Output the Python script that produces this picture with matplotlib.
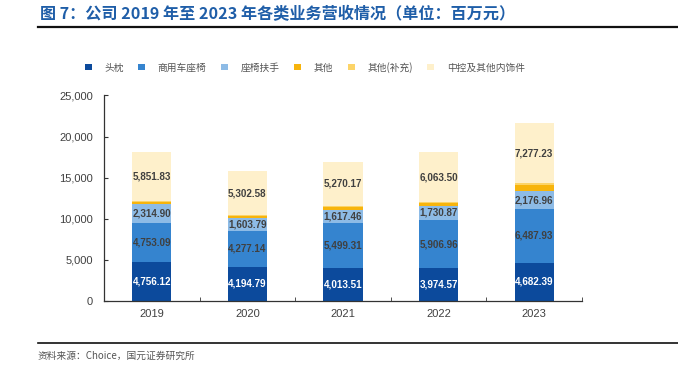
import matplotlib

matplotlib.use("Agg")
import matplotlib.pyplot as plt
import numpy as np

plt.rcParams["font.family"] = ["Noto Sans CJK SC", "DejaVu Sans"]
plt.rcParams["axes.unicode_minus"] = False

YEARS = ["2019", "2020", "2021", "2022", "2023"]
HEADREST = [4756.12, 4194.79, 4013.51, 3974.57, 4682.39]
COMMERCIAL_SEAT = [4753.09, 4277.14, 5499.31, 5906.96, 6487.93]
ARMREST = [2314.90, 1603.79, 1617.46, 1730.87, 2176.96]
OTHER = [250.0, 230.0, 320.0, 260.0, 820.0]
OTHER_EXTRA = [150.0, 170.0, 150.0, 140.0, 150.0]
CONSOLE = [5851.83, 5302.58, 5270.17, 6063.50, 7277.23]

SERIES_NAMES = ["头枕", "商用车座椅", "座椅扶手", "其他", "其他(补充)", "中控及其他内饰件"]
COLORS = ["#0c4a9c", "#3584cf", "#8dbbe6", "#f7b40c", "#fcd468", "#fef0cb"]
LABELED = [True, True, True, False, False, True]
LABEL_COLORS = ["#ffffff", "#404040", "#404040", None, None, "#404040"]

TITLE_BLUE = "#1f5ea8"
GRAY = "#404040"
NUM_FONT = ["Liberation Sans", "DejaVu Sans"]

fig = plt.figure(figsize=(6.78, 3.73), dpi=100)
ax = fig.add_axes([0.1534, 0.193, 0.705, 0.551])

series = [HEADREST, COMMERCIAL_SEAT, ARMREST, OTHER, OTHER_EXTRA, CONSOLE]
x = np.arange(len(YEARS))
bottom = np.zeros(len(YEARS))
for vals, name, color, lab, lc in zip(series, SERIES_NAMES, COLORS, LABELED, LABEL_COLORS):
    vals = np.array(vals)
    ax.bar(x, vals, 0.41, bottom=bottom, color=color, label=name, zorder=2)
    if lab:
        for xi, b, v in zip(x, bottom, vals):
            ax.text(xi, b + v / 2, f"{v:,.2f}", ha="center", va="center",
                    fontsize=7.1, fontweight="bold", color=lc, family=NUM_FONT, zorder=3)
    bottom += vals

ax.set_xlim(-0.5, len(YEARS) - 0.5)
ax.set_ylim(0, 25000)
ax.set_yticks(np.arange(0, 25001, 5000))
ax.set_yticklabels([f"{v:,}" for v in range(0, 25001, 5000)], fontsize=8, color=GRAY, family=NUM_FONT)
ax.set_xticks(x)
ax.set_xticklabels(YEARS, fontsize=8, color=GRAY, family=NUM_FONT)
ax.set_xticks(np.arange(-0.5, len(YEARS)), minor=True)
ax.tick_params(axis="x", which="major", length=0, pad=6)
ax.tick_params(axis="x", which="minor", direction="in", length=3, color="#333333")
ax.tick_params(axis="y", direction="in", length=3, color="#333333", pad=8)
for side in ("top", "right"):
    ax.spines[side].set_visible(False)
for side in ("left", "bottom"):
    ax.spines[side].set_color("#333333")
    ax.spines[side].set_linewidth(0.9)

ax.legend(loc="center", bbox_to_anchor=(0.42, 1.138), ncol=6, frameon=False,
          fontsize=7, handlelength=0.7, handleheight=0.7, columnspacing=1.5,
          handletextpad=1.3, labelcolor="#555555")

fig.text(0.059, 0.963, "图 7：公司 2019 年至 2023 年各类业务营收情况（单位：百万元）",
         fontsize=11.6, fontweight="bold", color=TITLE_BLUE, va="center")
fig.add_artist(plt.Line2D([0.056, 1.0], [0.928, 0.928], color="#111111", lw=1.6))
fig.add_artist(plt.Line2D([0.056, 1.0], [0.08, 0.08], color="#111111", lw=1.2))
fig.text(0.056, 0.045, "资料来源：Choice，国元证券研究所", fontsize=7, color="#555555", va="center")

fig.savefig("out.png", dpi=100)
